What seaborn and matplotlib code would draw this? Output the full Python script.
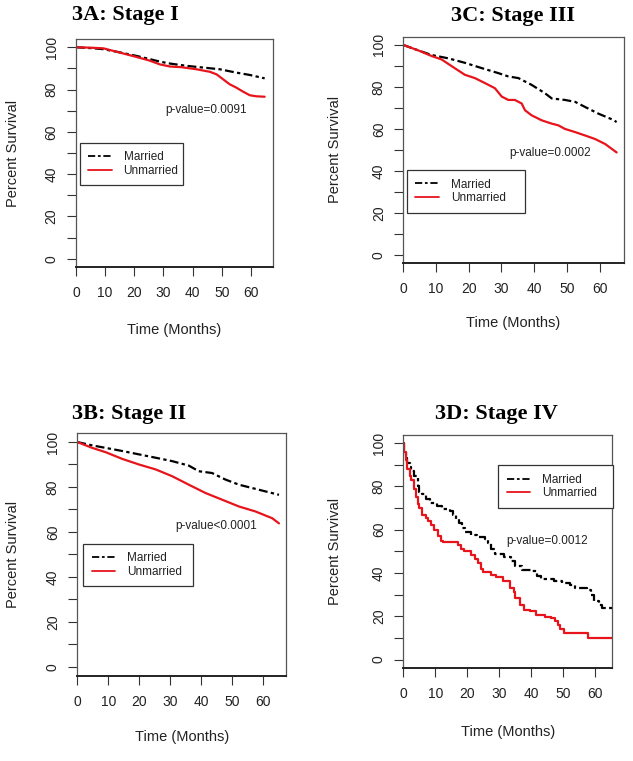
# -*- coding: utf-8 -*-
"""
Curvas de supervivencia (Kaplan-Meier) por estado civil, estadios I-IV.
Valores leídos a ojo de la figura original.
"""

import matplotlib
matplotlib.use("Agg")
import matplotlib.pyplot as plt
from matplotlib.lines import Line2D
import seaborn as sns

# === [1] DATOS (meses, % supervivencia) ===
# 3A: Stage I
a_t_married = [0, 5, 9.4, 15, 20.8, 25, 28.8, 32.2, 38, 43.6, 49.3, 55, 59.6, 64.7]
a_v_married = [100, 99.6, 99.1, 97.6, 95.9, 94.5, 93.2, 92.3, 91.2, 90.4, 89.6, 88.0, 86.9, 85.3]
a_t_unmarried = [0, 5, 9.4, 15, 20.8, 25, 28.8, 32.2, 36, 41.3, 45.9, 48.2, 50.5, 52.7,
                 55.0, 57.3, 59.6, 61.9, 64.7]
a_v_unmarried = [100, 99.8, 99.5, 97.5, 95.4, 93.8, 91.9, 90.9, 90.6, 89.6, 88.4, 87.2, 84.8, 82.5,
                 80.9, 79.0, 77.3, 76.8, 76.6]

# 3C: Stage III
c_t_married = [0, 4.6, 8.7, 13.8, 18.8, 23.9, 29.0, 32.1, 35.2, 39.2, 43.3, 45.4, 49.4, 52.5,
               55.5, 59.6, 63.7, 65.2]
c_v_married = [100, 97.4, 95.2, 93.6, 91.5, 89.0, 86.6, 85.0, 84.2, 81.0, 77.0, 74.5, 73.8, 72.9,
               70.5, 67.3, 64.6, 63.3]
c_t_unmarried = [0, 4.6, 8.7, 11.7, 14.8, 18.8, 21.9, 25.0, 28.0, 30.1, 32.1, 34.1, 36.2, 37.2,
                 39.2, 42.3, 45.4, 47.4, 49.4, 52.5, 55.5, 58.6, 61.7, 65.2]
c_v_unmarried = [100, 97.4, 94.7, 93.1, 89.9, 85.8, 84.2, 81.8, 79.4, 75.4, 73.8, 73.8, 72.1, 68.9,
                 66.5, 64.1, 62.5, 61.7, 60.0, 58.5, 56.9, 55.2, 52.8, 48.8]

# 3B: Stage II
b_t_married = [0, 4.8, 9.1, 14.5, 19.9, 25.3, 30.6, 36.0, 39.2, 43.5, 47.8, 52.2, 56.5, 60.8, 65.1]
b_v_married = [100, 98.5, 97.4, 96.0, 94.5, 93.0, 91.5, 89.5, 87.0, 86.2, 83.3, 81.0, 79.5, 78.0, 76.5]
b_t_unmarried = [0, 4.8, 9.1, 14.5, 19.9, 25.3, 30.6, 36.0, 41.4, 46.8, 52.2, 57.5, 62.9, 65.1]
b_v_unmarried = [100, 97.4, 95.5, 92.5, 90.0, 87.8, 84.8, 81.0, 77.3, 74.3, 71.3, 69.1, 66.1, 63.8]

# 3D: Stage IV (escalones)
d_t_married = [0, 0.3, 0.8, 1.3, 2.0, 2.5, 3.5, 4.5, 5.0, 6.0, 7.0, 8.5, 10.5, 12.0, 14.5, 15.5,
               16.5, 17.5, 18.3, 19.3, 21, 23, 25.5, 26.5, 27.5, 28.5, 31.5, 33.5, 35, 37, 40,
               41.8, 43, 47, 49.5, 52, 53.5, 57.5, 58.5, 59.5, 61, 62, 65.1]
d_v_married = [100, 97, 93, 91, 89, 87, 85, 80, 77.5, 76.5, 74, 72.5, 71, 69.5, 68.5, 67,
               65, 63, 61, 59, 57.5, 56.5, 55.5, 54, 51, 49, 47.5, 45.5, 43, 41.5, 40.7,
               38.4, 37, 36.1, 35.3, 34.5, 33, 32, 30, 27, 25, 23.8, 23.8]
d_t_unmarried = [0, 0.3, 0.8, 1.3, 2, 2.5, 3.4, 4, 4.5, 5, 6, 7, 7.6, 8.6, 9.6, 10.7, 11.7, 12.3,
                 17, 18, 19, 21, 22.5, 23.3, 24.3, 25, 27.4, 29, 31, 33.4, 34.5, 35, 36.3, 37.7,
                 39.5, 41.5, 44.3, 46, 47.4, 48.3, 48.9, 50.3, 57.8, 65.1]
d_v_unmarried = [100, 96, 92, 88, 85, 83, 79, 75, 72, 70, 67, 65.5, 64, 62, 60, 57, 55, 54.5,
                 53, 51, 50, 48.4, 46.5, 44.5, 42, 40.5, 39.2, 38, 36.1, 33, 31, 28.4, 25, 23,
                 22.2, 20.7, 19.5, 19, 17.7, 16, 14, 12.3, 10, 10]

group_labels = ["Married", "Unmarried"]
p_values = ["p-value=0.0091", "p-value=0.0002", "p-value<0.0001", "p-value=0.0012"]
titles = ["3A: Stage I", "3C: Stage III", "3B: Stage II", "3D: Stage IV"]
x_ticks = [0, 10, 20, 30, 40, 50, 60]
y_ticks = [0, 10, 20, 30, 40, 50, 60, 70, 80, 90, 100]

# === [2] ESTILO ===
sns.set_style("ticks")
plt.rcParams["font.family"] = ["Liberation Sans", "DejaVu Sans"]

MARRIED_LS = (0, (4, 1.5, 1.5, 1.5))
RED = "#e8141c"
TXT = "#222222"

# rect = [left, bottom, width, height] en fracción de figura
panels = [
    dict(rect=[0.120, 0.649, 0.311, 0.300], xmax=67.5, steps=False,
         married=(a_t_married, a_v_married), unmarried=(a_t_unmarried, a_v_unmarried),
         pxy=(44.5, 70.1), leg=(0.02, 0.544, 0.523), ylab=-0.32, xlab=-0.276,
         txy=(0.114, 0.974), tha="left"),
    dict(rect=[0.637, 0.654, 0.348, 0.298], xmax=67.3, steps=False,
         married=(c_t_married, c_v_married), unmarried=(c_t_unmarried, c_v_unmarried),
         pxy=(45.0, 48.3), leg=(0.018, 0.410, 0.536), ylab=-0.309, xlab=-0.264,
         txy=(0.810, 0.972), tha="center"),
    dict(rect=[0.122, 0.112, 0.330, 0.319], xmax=67.4, steps=False,
         married=(b_t_married, b_v_married), unmarried=(b_t_unmarried, b_v_unmarried),
         pxy=(44.8, 62.8), leg=(0.029, 0.543, 0.526), ylab=-0.306, xlab=-0.251,
         txy=(0.114, 0.449), tha="left"),
    dict(rect=[0.637, 0.122, 0.330, 0.307], xmax=65.2, steps=True,
         married=(d_t_married, d_v_married), unmarried=(d_t_unmarried, d_v_unmarried),
         pxy=(45.0, 54.8), leg=(0.455, 0.868, 0.55), ylab=-0.325, xlab=-0.274,
         txy=(0.784, 0.449), tha="center"),
]

# === [3] FIGURA ===
fig = plt.figure(figsize=(6.33, 7.61), dpi=100)

for i, p in enumerate(panels):
    ax = fig.add_axes(p["rect"])
    ds = "steps-post" if p["steps"] else "default"

    sns.lineplot(x=p["married"][0], y=p["married"][1], ax=ax, color="black",
                 linewidth=1.6, linestyle=MARRIED_LS, drawstyle=ds, estimator=None)
    sns.lineplot(x=p["unmarried"][0], y=p["unmarried"][1], ax=ax, color=RED,
                 linewidth=1.6, drawstyle=ds, estimator=None)

    ax.set_xlim(0, p["xmax"])
    ax.set_ylim(-4, 104)
    ax.set_xticks(x_ticks)
    ax.set_xticklabels([str(t) for t in x_ticks])
    ax.set_yticks(y_ticks)
    ax.set_yticklabels([str(t) if t % 20 == 0 else "" for t in y_ticks],
                       rotation=90, va="center")
    ax.tick_params(direction="out", length=6.5, width=0.8, colors="#333333",
                   labelcolor=TXT, labelsize=10, left=True, bottom=True)
    ax.tick_params(axis="x", pad=7)
    ax.tick_params(axis="y", pad=6)

    for side in ["top", "right", "left"]:
        ax.spines[side].set_visible(True)
        ax.spines[side].set_color("#555555")
        ax.spines[side].set_linewidth(0.9)
    ax.spines["bottom"].set_color("#222222")
    ax.spines["bottom"].set_linewidth(1.4)

    ax.set_ylabel("Percent Survival", fontsize=10.5, color=TXT, va="center")
    ax.yaxis.set_label_coords(p["ylab"], 0.5)
    ax.set_xlabel("Time (Months)", fontsize=10.5, color=TXT, va="center")
    ax.xaxis.set_label_coords(0.5, p["xlab"])

    ax.text(p["pxy"][0], p["pxy"][1], p_values[i], fontsize=8.5, color=TXT,
            ha="center", va="center")

    handles = [Line2D([], [], color="black", lw=1.3, linestyle=MARRIED_LS),
               Line2D([], [], color=RED, lw=1.3)]
    x0, ytop, w = p["leg"]
    leg = ax.legend(handles, group_labels, loc="upper left",
                    bbox_to_anchor=(x0, ytop - 0.3, w, 0.3), mode="expand",
                    borderaxespad=0, fontsize=8.5, handlelength=2.0, handletextpad=1.0,
                    borderpad=0.7, labelspacing=0.15, fancybox=False, framealpha=1)
    leg.get_frame().set_edgecolor("#333333")
    leg.get_frame().set_linewidth(0.9)
    for t in leg.get_texts():
        t.set_color(TXT)

    fig.text(p["txy"][0], p["txy"][1], titles[i], ha=p["tha"], va="baseline",
             family=["Liberation Serif", "DejaVu Serif"], weight="bold", fontsize=16,
             color="black")

plt.savefig("out.png", dpi=100)
plt.close()
